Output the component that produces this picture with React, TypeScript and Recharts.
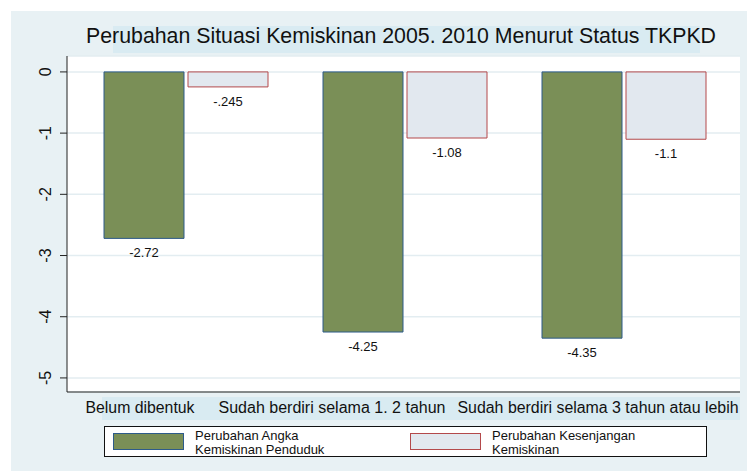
import { Bar, BarChart, CartesianGrid, LabelList, XAxis, YAxis } from 'recharts'

const CATEGORIES = ['Belum dibentuk', 'Sudah berdiri selama 1. 2 tahun', 'Sudah berdiri selama 3 tahun atau lebih']
const ANGKA_KEMISKINAN = [-2.72, -4.25, -4.35]
const KESENJANGAN = [-0.245, -1.08, -1.1]
const Y_TICKS = [0, -1, -2, -3, -4, -5]

const SERIES = [
  {
    key: 'angka',
    name: 'Perubahan Angka Kemiskinan Penduduk',
    lines: ['Perubahan Angka', 'Kemiskinan Penduduk'],
    fill: '#7a8f57',
    stroke: '#2d5b8a',
  },
  {
    key: 'kesenjangan',
    name: 'Perubahan Kesenjangan Kemiskinan',
    lines: ['Perubahan Kesenjangan', 'Kemiskinan'],
    fill: '#e2e8ef',
    stroke: '#b4494b',
  },
]

const data = CATEGORIES.map((name, i) => ({
  name,
  angka: ANGKA_KEMISKINAN[i],
  kesenjangan: KESENJANGAN[i],
}))

const FONT = '"Liberation Sans", Arial, sans-serif'
// category labels in the source are not centred under the groups
const TICK_SHIFT = [-100, -186, -166]
const TICK_WIDTH = [109, 227, 281]

// stata style: -.245 instead of -0.245
const fmt = (v: number) => String(v).replace(/^(-?)0\./, '$1.')

function YTick({ x, y, payload }: any) {
  const tx = Number(x) - 7
  return (
    <text x={tx} y={y} transform={`rotate(-90 ${tx} ${y})`} textAnchor="middle" fontSize={16} fontFamily={FONT} fill="#111">
      {payload.value}
    </text>
  )
}

function XTick({ x, y, payload, index }: any) {
  return (
    <text
      x={Number(x) + TICK_SHIFT[index]}
      y={Number(y) + 21}
      fontSize={16}
      fontFamily={FONT}
      fill="#111"
      textLength={TICK_WIDTH[index]}
      lengthAdjust="spacingAndGlyphs"
    >
      {payload.value}
    </text>
  )
}

function ValueLabel({ x, y, width, height, value }: any) {
  const bottom = Math.max(Number(y), Number(y) + Number(height))
  return (
    <text x={Number(x) + Number(width) / 2} y={bottom + 19} textAnchor="middle" fontSize={13} fontFamily={FONT} fill="#111">
      {fmt(Number(value))}
    </text>
  )
}

export default function App() {
  return (
    <div style={{ position: 'absolute', left: 0, top: 0, width: 747, height: 471, background: '#fff', overflow: 'hidden' }}>
      <div style={{ position: 'absolute', left: 11, top: 11, right: 0, bottom: 0, background: '#e8f1f4' }} />
      <div style={{ position: 'absolute', left: 113, top: 26, width: 587, height: 27, background: '#d9ebf2' }} />
      <div style={{ position: 'absolute', left: 102, top: 397, width: 638, height: 23, background: '#d9ebf2' }} />

      <div style={{ position: 'absolute', left: 0, top: 0 }}>
        <BarChart
          width={747}
          height={471}
          data={data}
          margin={{ top: 56, right: 7, bottom: 0, left: 0 }}
          barSize={80}
          barGap={4}
        >
          <CartesianGrid vertical={false} fill="#fff" fillOpacity={1} stroke="#e3edf1" strokeWidth={1.5} />
          <XAxis
            dataKey="name"
            height={79}
            interval={0}
            padding={{ left: 9, right: 7 }}
            axisLine={{ stroke: '#222' }}
            tickLine={false}
            tickSize={0}
            tickMargin={0}
            tick={<XTick />}
          />
          <YAxis
            type="number"
            width={67}
            domain={[-5.23, 0.26]}
            ticks={Y_TICKS}
            allowDataOverflow
            axisLine={{ stroke: '#222' }}
            tickLine={{ stroke: '#222' }}
            tickSize={7}
            tick={<YTick />}
          />
          {SERIES.map((s) => (
            <Bar key={s.key} dataKey={s.key} name={s.name} fill={s.fill} stroke={s.stroke} strokeWidth={1} isAnimationActive={false}>
              <LabelList dataKey={s.key} content={<ValueLabel />} />
            </Bar>
          ))}
        </BarChart>
      </div>

      <svg width={747} height={471} style={{ position: 'absolute', left: 0, top: 0, pointerEvents: 'none' }}>
        <text
          x={86}
          y={43}
          fontSize={22}
          fontFamily={FONT}
          fill="#111"
          textLength={630}
          lengthAdjust="spacingAndGlyphs"
        >
          Perubahan Situasi Kemiskinan 2005. 2010 Menurut Status TKPKD
        </text>
        <rect x={104.5} y={426.5} width={602} height={30} fill="#fff" stroke="#111" strokeWidth={1} />
        {SERIES.map((s, i) => {
          const sx = i === 0 ? 113 : 410
          return (
            <g key={s.key}>
              <rect x={sx + 0.5} y={433.5} width={70} height={16} fill={s.fill} stroke={s.stroke} strokeWidth={1} />
              {s.lines.map((line, j) => (
                <text key={j} x={sx + 82} y={440 + j * 14} fontSize={13} fontFamily={FONT} fill="#111">
                  {line}
                </text>
              ))}
            </g>
          )
        })}
      </svg>
    </div>
  )
}
